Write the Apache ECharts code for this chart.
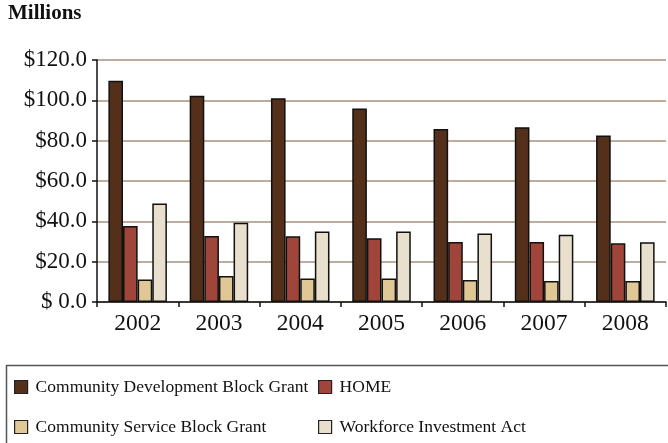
<!DOCTYPE html>
<html><head><meta charset="utf-8">
<script src="https://cdn.jsdelivr.net/npm/echarts@6/dist/echarts.min.js"></script>
<style>html,body{margin:0;padding:0;background:#fff}#c{width:668px;height:443px}</style>
</head><body><div id="c"></div>
<script>
const years = ['2002','2003','2004','2005','2006','2007','2008'];
const cdbg = [109.7, 102.3, 101.0, 95.9, 85.8, 86.6, 82.6];
const home = [37.7, 32.7, 32.6, 31.6, 29.7, 29.7, 29.1];
const csbg = [11.2, 12.9, 11.6, 11.6, 10.9, 10.4, 10.4];
const wia = [48.9, 39.3, 34.9, 34.9, 34.0, 33.4, 29.6];
const seriesNames = ['Community Development Block Grant','HOME','Community Service Block Grant','Workforce Investment Act'];
const colors = ['#54301b','#a0453a','#e0c896','#e8e0cc'];
const FONT = '"Liberation Serif", "DejaVu Serif", serif';
const chart = echarts.init(document.getElementById('c'), null, {renderer:'canvas'});
const vals = [cdbg, home, csbg, wia];
const legendPos = [[14,378],[318,378],[14,418],[318,418]];
chart.setOption({
  animation:false,
  textStyle:{fontFamily:FONT},
  graphic:[
    {type:'text', left:8, top:3, style:{text:'Millions', font:'bold 21px '+FONT, fill:'#111'}},
    {type:'rect', shape:{x:6.5,y:365.5,width:700,height:100}, style:{fill:'none', stroke:'#555', lineWidth:1.5}}
  ],
  grid:{left:97, right:2, top:60, bottom:141},
  legend: seriesNames.map((n,i)=>({
    data:[n], left:legendPos[i][0], top:legendPos[i][1], padding:0,
    icon:'rect', itemWidth:13, itemHeight:13,
    itemStyle:{borderColor:'#222', borderWidth:1.2},
    textStyle:{fontFamily:FONT, fontSize:17.5, color:'#111', lineHeight:14, padding:[0,0,0,3]}
  })),
  xAxis:{type:'category', data:years,
    axisLine:{lineStyle:{color:'#111', width:1.5}},
    axisTick:{show:true, length:5, lineStyle:{color:'#111', width:1.5}},
    axisLabel:{fontFamily:FONT, fontSize:23.5, color:'#111', margin:10}},
  yAxis:{type:'value', min:0, max:120, interval:20,
    axisLine:{show:true, lineStyle:{color:'#111', width:1.5}},
    axisTick:{show:true, length:5, lineStyle:{color:'#111', width:1.5}},
    splitLine:{lineStyle:{color:'#a8907f', width:1.5}},
    axisLabel:{fontFamily:FONT, fontSize:23, color:'#111', margin:10,
      formatter:v=> v===0 ? '$ 0.0' : '$'+v.toFixed(1)}},
  series: seriesNames.map((n,i)=>({
    name:n, type:'bar', data:vals[i], barGap:'0%', barCategoryGap:'28%',
    itemStyle:{color:colors[i], borderColor:'#111', borderWidth:1.5}
  }))
});
</script></body></html>
